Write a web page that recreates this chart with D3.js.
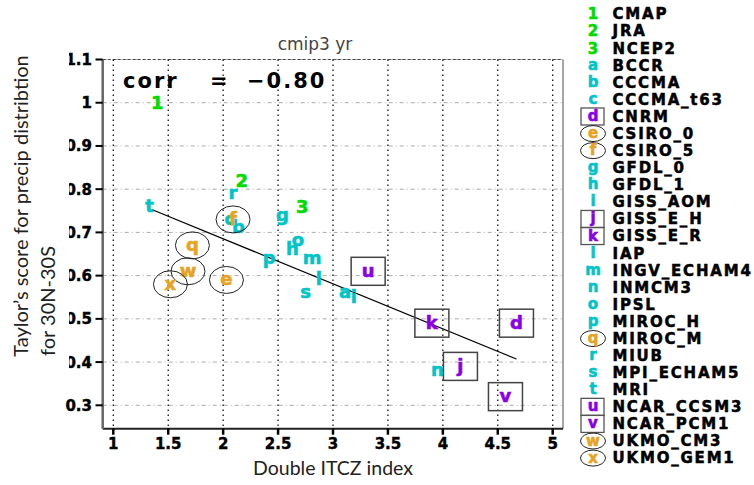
<!DOCTYPE html>
<html><head><meta charset="utf-8">
<script src="https://cdn.jsdelivr.net/npm/d3@7/dist/d3.min.js"></script>
<style>body{margin:0;background:#fff}svg{display:block}</style>
</head><body>
<svg id="chart" width="754" height="485"></svg>
<script>
// ---------- data ----------
const symbols = ["1","2","3","a","b","c","d","e","f","g","h","i","j","k","l","m","n","o","p","q","r","s","t","u","v","w","x"];
const names = ["CMAP","JRA","NCEP2","BCCR","CCCMA","CCCMA_t63","CNRM","CSIRO_0","CSIRO_5","GFDL_0","GFDL_1","GISS_AOM","GISS_E_H","GISS_E_R","IAP","INGV_ECHAM4","INMCM3","IPSL","MIROC_H","MIROC_M","MIUB","MPI_ECHAM5","MRI","NCAR_CCSM3","NCAR_PCM1","UKMO_CM3","UKMO_GEM1"];
const groups = ["obs","obs","obs","plain","plain","plain","box","circle","circle","plain","plain","plain","box","box","plain","plain","plain","plain","plain","circle","plain","plain","plain","box","box","circle","circle"];
const xValues = [1.40,2.17,2.72,3.11,2.14,2.06,4.67,2.03,2.09,2.54,2.63,3.19,4.16,3.90,2.87,2.81,3.95,2.68,2.42,1.72,2.09,2.75,1.33,3.32,4.57,1.68,1.52];
const yValues = [1.00,0.82,0.76,0.56,0.71,0.73,0.49,0.59,0.73,0.74,0.66,0.55,0.39,0.49,0.59,0.64,0.38,0.68,0.64,0.67,0.79,0.56,0.76,0.61,0.32,0.61,0.58];
const xTicks = [1,1.5,2,2.5,3,3.5,4,4.5,5];
const xTickLabels = ["1","1.5","2","2.5","3","3.5","4","4.5","5"];
const yTicks = [0.3,0.4,0.5,0.6,0.7,0.8,0.9,1.0,1.1];
const yTickLabels = ["0.3","0.4","0.5","0.6","0.7","0.8","0.9","1","1.1"];
const fitX = [1.35, 4.67];
const fitY = [0.753, 0.407];
const titleText = "cmip3 yr";
const corrLabel = ["corr", "=", "\u22120.80"];
const xTitle = "Double ITCZ index";
const yTitle = ["Taylor\u2019s score for precip distribtion", "for 30N-30S"];

// ---------- styles ----------
const colors = {obs:"#00dc00", plain:"#00c4c8", box:"#8a00e6", circle:"#e6a324"};
const boldFont = "'DejaVu Sans', sans-serif";

const svg = d3.select("#chart");
const frame = {left:102.7, right:563, top:59.5, bottom:428.7};
const x = d3.scaleLinear().domain([1,5]).range([113.3,552.7]);
const y = d3.scaleLinear().domain([0.3,1.1]).range([405.3,59.5]);

// grid lines
svg.append("g").selectAll("line").data(yTicks).join("line")
  .attr("x1",frame.left).attr("x2",frame.right)
  .attr("y1",d=>y(d)).attr("y2",d=>y(d))
  .attr("stroke","#aaa").attr("stroke-width",1).attr("stroke-dasharray","4,3,1,3");
svg.append("g").selectAll("line").data(xTicks).join("line")
  .attr("x1",d=>x(d)).attr("x2",d=>x(d))
  .attr("y1",frame.top).attr("y2",frame.bottom)
  .attr("stroke","#111").attr("stroke-width",1.3).attr("stroke-dasharray","1.5,3.5");

// frame
svg.append("line").attr("x1",frame.left).attr("x2",frame.right).attr("y1",frame.top).attr("y2",frame.top)
  .attr("stroke","#444").attr("stroke-width",1).attr("stroke-dasharray","3,2");
svg.append("line").attr("x1",frame.right).attr("x2",frame.right).attr("y1",frame.top).attr("y2",frame.bottom)
  .attr("stroke","#888").attr("stroke-width",1.5);
svg.append("line").attr("x1",frame.left).attr("x2",frame.right).attr("y1",frame.bottom).attr("y2",frame.bottom)
  .attr("stroke","#222").attr("stroke-width",2);
svg.append("line").attr("x1",frame.left).attr("x2",frame.left).attr("y1",frame.top).attr("y2",frame.bottom)
  .attr("stroke","#666").attr("stroke-width",2.5);

// ticks
svg.append("g").selectAll("line").data(yTicks).join("line")
  .attr("x1",95.5).attr("x2",frame.left).attr("y1",d=>y(d)).attr("y2",d=>y(d))
  .attr("stroke","#000").attr("stroke-width",2);
svg.append("g").selectAll("line").data(xTicks).join("line")
  .attr("x1",d=>x(d)).attr("x2",d=>x(d)).attr("y1",frame.bottom).attr("y2",frame.bottom+6)
  .attr("stroke","#000").attr("stroke-width",2.5);

// tick labels
svg.append("g").selectAll("text").data(yTicks).join("text")
  .attr("x",92).attr("y",d=>y(d)+5.5).attr("text-anchor","end")
  .attr("font-family",boldFont).attr("font-weight","bold").attr("font-size",15)
  .attr("stroke","#000").attr("stroke-width",0.4)
  .text((d,i)=>yTickLabels[i]);
svg.append("g").selectAll("text").data(xTicks).join("text")
  .attr("x",d=>x(d)).attr("y",448.5).attr("text-anchor","middle")
  .attr("font-family",boldFont).attr("font-weight","bold").attr("font-size",15)
  .attr("stroke","#000").attr("stroke-width",0.4)
  .text((d,i)=>xTickLabels[i]);

// regression line
svg.append("line")
  .attr("x1",x(fitX[0])).attr("y1",y(fitY[0])).attr("x2",x(fitX[1])).attr("y2",y(fitY[1]))
  .attr("stroke","#000").attr("stroke-width",1.2);

// markers
const pts = symbols.map((s,i)=>({s, g:groups[i], x:xValues[i], y:yValues[i]}));
const mk = svg.append("g");
pts.forEach(p=>{
  const cx = x(p.x), cy = y(p.y);
  if(p.g==="box"){
    mk.append("rect").attr("x",cx-17).attr("y",cy-14).attr("width",34).attr("height",28)
      .attr("fill","none").attr("stroke","#444").attr("stroke-width",1.5);
  } else if(p.g==="circle"){
    mk.append("ellipse").attr("cx",cx).attr("cy",cy).attr("rx",17).attr("ry",13.5)
      .attr("fill","none").attr("stroke","#222").attr("stroke-width",1);
  }
  mk.append("text").attr("x",cx).attr("y",cy).attr("dy", p.g==="obs" ? "0.36em" : "0.3em")
    .attr("text-anchor","middle").attr("font-family",boldFont).attr("font-weight","bold")
    .attr("font-size",18).attr("fill",colors[p.g]).attr("stroke",colors[p.g]).attr("stroke-width",0.6)
    .text(p.s);
});

// title & corr
svg.append("text").attr("x",315).attr("y",50).attr("text-anchor","middle")
  .attr("font-family","'DejaVu Sans', sans-serif").attr("font-size",17).attr("fill","#444")
  .text(titleText);
const corrX = [123, 210, 247];
svg.append("g").selectAll("text").data(corrLabel).join("text")
  .attr("x",(d,i)=>corrX[i]).attr("y",88).attr("font-family",boldFont).attr("font-weight","bold")
  .attr("font-size",21).attr("letter-spacing",2).attr("fill","#000").text(d=>d);

// white cover behind the y title (overlays the leading digits as in reference)
svg.append("rect").attr("x",0).attr("y",25).attr("width",69).attr("height",366).attr("fill","#fff");

// axis titles
const yt = svg.append("g").attr("font-family","Lato, sans-serif").attr("font-size",20).attr("fill","#222");
yt.append("text").attr("transform","translate(28,206) rotate(-90)").attr("text-anchor","middle").text(yTitle[0]);
yt.append("text").attr("transform","translate(55,301) rotate(-90)").attr("text-anchor","middle").text(yTitle[1]);
svg.append("text").attr("x",333).attr("y",475).attr("text-anchor","middle")
  .attr("font-family","Lato, sans-serif").attr("font-size",19.5).attr("fill","#222").text(xTitle);

// legend
const rowH = 17.08, row0 = 14, symX = 593, labX = 612.5;
const lg = svg.append("g");
pts.forEach((p,i)=>{
  const cy = row0 + i*rowH;
  if(p.g==="box"){
    lg.append("rect").attr("x",symX-12).attr("y",cy-8.5).attr("width",23).attr("height",17)
      .attr("fill","none").attr("stroke","#555").attr("stroke-width",1.3);
  } else if(p.g==="circle"){
    lg.append("ellipse").attr("cx",symX).attr("cy",cy).attr("rx",12.5).attr("ry",8)
      .attr("fill","none").attr("stroke","#222").attr("stroke-width",1);
  }
  lg.append("text").attr("x",symX).attr("y",cy).attr("dy", p.g==="obs" ? "0.36em" : "0.3em")
    .attr("text-anchor","middle").attr("font-family",boldFont).attr("font-weight","bold")
    .attr("font-size",15).attr("fill",colors[p.g])
    .attr("stroke",colors[p.g]).attr("stroke-width",0.6).text(p.s);
  lg.append("text").attr("x",labX).attr("y",cy+5.4).attr("font-family",boldFont).attr("font-weight","bold")
    .attr("font-size",15).attr("letter-spacing",1.8).attr("fill","#000")
    .attr("stroke","#000").attr("stroke-width",0.5).text(names[i]);
});
</script>
</body></html>
